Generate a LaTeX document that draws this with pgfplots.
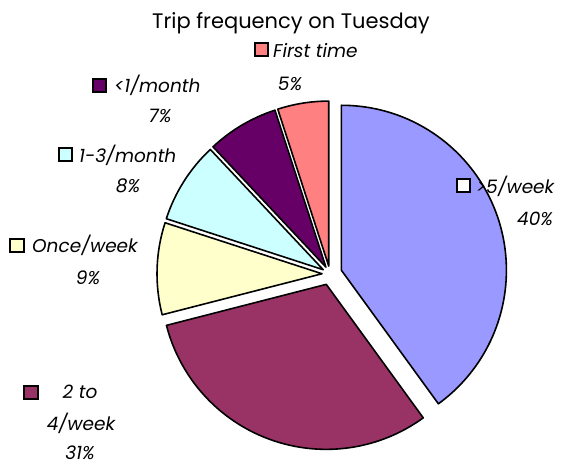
\documentclass[border=0pt]{standalone}
\usepackage{pgfplots}
\pgfplotsset{compat=1.18}
\usepackage{fontspec}
\setmainfont{Poppins}
\definecolor{cBlue}{HTML}{9999FF}
\definecolor{cPurple}{HTML}{993366}
\definecolor{cYellow}{HTML}{FFFFCC}
\definecolor{cCyan}{HTML}{CCFFFF}
\definecolor{cDark}{HTML}{660066}
\definecolor{cPink}{HTML}{FF8080}
\begin{document}
\begin{tikzpicture}
\def\cx{330}\def\cy{274}\def\R{165}
\begin{axis}[
  width=566pt, height=466pt, scale only axis,
  xmin=0, xmax=566, ymin=0, ymax=466, y dir=reverse,
  hide axis, clip=false,
]
\xdef\cum{0}
\foreach \v/\d/\c in {40/12/cBlue, 31/11/cPurple, 9/8/cYellow, 8/8/cCyan, 7/8/cDark, 5/8/cPink}{
  \pgfmathsetmacro{\aA}{90-3.6*\cum}
  \pgfmathsetmacro{\aB}{90-3.6*(\cum+\v)}
  \pgfmathsetmacro{\m}{(\aA+\aB)/2}
  \pgfmathsetmacro{\px}{\cx+\d*cos(\m)}
  \pgfmathsetmacro{\py}{\cy-\d*sin(\m)}
  \edef\temp{\noexpand\filldraw[fill=\c, draw=black, line width=1.6pt, line join=round] (axis cs:\px,\py) -- ++(\aA:\R pt) arc[start angle=\aA, end angle=\aB, radius=\R pt] -- cycle;}
  \temp
  \pgfmathsetmacro{\newcum}{\cum+\v}
  \global\let\cum\newcum
}
% title
\node[anchor=base, font=\fontsize{21}{24}\selectfont, inner sep=0pt] at (axis cs:291,28) {Trip frequency on Tuesday};
% labels
\tikzset{lab/.style={font=\fontsize{18.5}{22}\selectfont\itshape}, key/.style={draw=black, line width=1.4pt}}
% First time
\filldraw[key, fill=cPink] (axis cs:255,43) rectangle (axis cs:268,56);
\node[lab, anchor=base west, inner sep=0pt] at (axis cs:273,57) {First time};
\node[lab, anchor=base, inner sep=0pt] at (axis cs:290,90) {5\%};
% <1/month
\filldraw[key, fill=cDark] (axis cs:93,79) rectangle (axis cs:106,92);
\node[lab, anchor=base west, inner sep=0pt] at (axis cs:114,92) {<1/month};
\node[lab, anchor=base, inner sep=0pt] at (axis cs:160,122) {7\%};
% 1-3/month
\filldraw[key, fill=cCyan] (axis cs:59,148) rectangle (axis cs:72,161);
\node[lab, anchor=base west, inner sep=0pt] at (axis cs:79,162) {1-3/month};
\node[lab, anchor=base, inner sep=0pt] at (axis cs:128,192) {8\%};
% Once/week
\filldraw[key, fill=cYellow] (axis cs:10,239) rectangle (axis cs:24,252);
\node[lab, anchor=base west, inner sep=0pt] at (axis cs:32,252) {Once/week};
\node[lab, anchor=base, inner sep=0pt] at (axis cs:88,284) {9\%};
% 2 to 4/week
\filldraw[key, fill=cPurple] (axis cs:24,386) rectangle (axis cs:38,399);
\node[lab, anchor=base, inner sep=0pt] at (axis cs:80,398) {2 to};
\node[lab, anchor=base, inner sep=0pt] at (axis cs:81,430) {4/week};
\node[lab, anchor=base, inner sep=0pt] at (axis cs:80,459) {31\%};
% >5/week
\filldraw[key, fill=white] (axis cs:457,179) rectangle (axis cs:470,192);
\node[lab, anchor=base west, inner sep=0pt] at (axis cs:476,193) {>5/week};
\node[lab, anchor=base, inner sep=0pt] at (axis cs:535,225) {40\%};
\end{axis}
\pgfresetboundingbox
\path[use as bounding box] (0,0) rectangle (566pt,466pt);
\end{tikzpicture}
\end{document}
